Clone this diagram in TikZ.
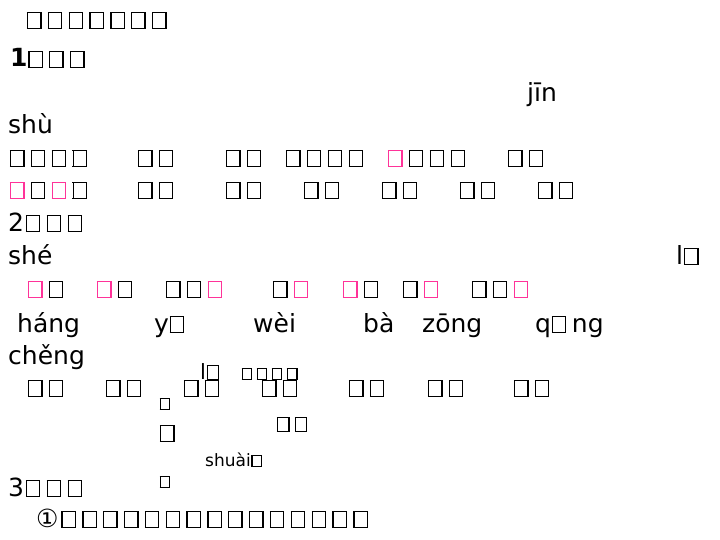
\documentclass[tikz,border=0pt]{standalone}
\usepackage{fontspec}
\setmainfont{DejaVu Sans}
\usepackage{xcolor}
\definecolor{markpink}{RGB}{255,51,153}
% empty glyph box, as the reference prints it
\newcommand{\tofu}[1][black]{\kern0.03em{\color{#1}\fboxsep=0pt\fboxrule=1.3pt\fbox{\rule{0pt}{0.6em}\rule{0.48em}{0pt}}}\kern0.22em}
\newcommand{\ptofu}{\tofu[markpink]}

\begin{document}
\begin{tikzpicture}[x=1pt,y=-1pt,
    txt/.style={anchor=base west, inner sep=0pt, font=\fontsize{25}{30}\selectfont},
    midtxt/.style={txt, font=\fontsize{21}{25}\selectfont},
    smalltxt/.style={txt, font=\fontsize{17}{20}\selectfont}]
    \useasboundingbox (0,0) rectangle (720,540);

    % heading
    \node[txt] (title) at (26,28) {\tofu\tofu\tofu\tofu\tofu\tofu\tofu};

    % part 1
    \node[txt] (q1) at (10,67) {\textbf{1}\tofu\tofu\tofu};
    \node[txt] (jin) at (527,102) {jīn};
    \node[txt] (shu) at (8,134) {shù};

    \node[txt] (wa) at (9,166) {\tofu\tofu\tofu\tofu};
    \node[txt] (wb) at (137,166) {\tofu\tofu};
    \node[txt] (wc) at (225,166) {\tofu\tofu};
    \node[txt] (wd) at (285,166) {\tofu\tofu\tofu\tofu};
    \node[txt] (we) at (387,166) {\ptofu\tofu\tofu\tofu};
    \node[txt] (wf) at (507,166) {\tofu\tofu};

    \node[txt] (va) at (9,198) {\ptofu\tofu\ptofu\tofu};
    \node[txt] (vb) at (137,198) {\tofu\tofu};
    \node[txt] (vc) at (225,198) {\tofu\tofu};
    \node[txt] (vd) at (303,198) {\tofu\tofu};
    \node[txt] (ve) at (381,198) {\tofu\tofu};
    \node[txt] (vf) at (459,198) {\tofu\tofu};
    \node[txt] (vg) at (537,198) {\tofu\tofu};

    % part 2
    \node[txt] (q2) at (8,231) {2\kern1pt\tofu\tofu\tofu};
    \node[txt] (she) at (8,264) {shé};
    \node[txt] (li) at (676,264) {l\tofu};

    \node[txt] (ua) at (27,297) {\ptofu\tofu};
    \node[txt] (ub) at (96,297) {\ptofu\tofu};
    \node[txt] (uc) at (165,297) {\tofu\tofu\ptofu};
    \node[txt] (ud) at (272,297) {\tofu\ptofu};
    \node[txt] (ue) at (342,297) {\ptofu\tofu};
    \node[txt] (uf) at (402,297) {\tofu\ptofu};
    \node[txt] (ug) at (471,297) {\tofu\tofu\ptofu};

    \node[txt] (hang) at (17,332) {háng};
    \node[txt] (yo) at (154,332) {y\tofu};
    \node[txt] (wei) at (253,332) {wèi};
    \node[txt] (ba) at (363,332) {bà};
    \node[txt] (zong) at (422,332) {zōng};
    \node[txt] (qing) at (535,332) {q\tofu ng};
    \node[txt] (cheng) at (8,364) {chěng};

    \node[midtxt] (lu) at (200,379) {l\tofu};
    \node[smalltxt] (note) at (241,379) {\tofu\tofu\tofu\tofu};

    \node[txt] (ta) at (27,396) {\tofu\tofu};
    \node[txt] (tb) at (105,396) {\tofu\tofu};
    \node[txt] (tc) at (183,396) {\tofu\tofu};
    \node[txt] (td) at (261,396) {\tofu\tofu};
    \node[txt] (te) at (348,396) {\tofu\tofu};
    \node[txt] (tf) at (427,396) {\tofu\tofu};
    \node[txt] (tg) at (513,396) {\tofu\tofu};

    % loose marks under the rows
    \node[smalltxt] (ma) at (159,409) {\tofu};
    \node[txt] (mb) at (159,441) {\tofu};
    \node[midtxt] (mc) at (276,431) {\tofu\tofu};
    \node[smalltxt] (shuai) at (205,466) {shuài\tofu};
    \node[smalltxt] (md) at (159,487) {\tofu};

    % part 3
    \node[txt] (q3) at (8,496) {3\kern1pt\tofu\tofu\tofu};
    \node[txt] (s1) at (36,527) {①\kern2pt\tofu\tofu\tofu\tofu\tofu\tofu\tofu\tofu\tofu\tofu\tofu\tofu\tofu\tofu\tofu};
\end{tikzpicture}
\end{document}
